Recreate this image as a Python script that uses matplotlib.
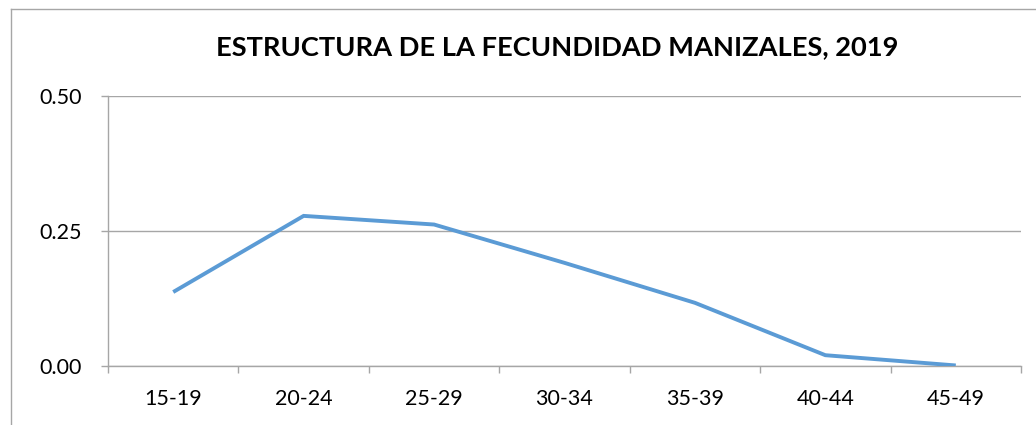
import matplotlib
matplotlib.use("Agg")
import matplotlib.pyplot as plt
import numpy as np
from matplotlib.lines import Line2D

# Data
grupos = ["15-19", "20-24", "25-29", "30-34", "35-39", "40-44", "45-49"]
tasas = [0.137, 0.278, 0.262, 0.191, 0.117, 0.020, 0.001]
y_ticks = [0.0, 0.25, 0.5]
titulo = "ESTRUCTURA DE LA FECUNDIDAD MANIZALES, 2019"

gris = "#a6a6a6"
azul = "#5b9bd5"

plt.rcParams["font.family"] = ["Lato", "DejaVu Sans"]

fig = plt.figure(figsize=(10.36, 4.25), dpi=100)
ax = fig.add_axes([108 / 1036, 1 - 366 / 425, (1021 - 108) / 1036, (366 - 96) / 425])

x = np.arange(len(grupos))
ax.plot(x, tasas, color=azul, linewidth=2.8, solid_capstyle="butt", solid_joinstyle="miter", zorder=3)

ax.set_xlim(-0.5, len(grupos) - 0.5)
ax.set_ylim(0, 0.5)
ax.set_yticks(y_ticks)
ax.set_yticklabels([f"{v:.2f}" for v in y_ticks])
ax.set_xticks(x)
ax.set_xticklabels(grupos)
ax.set_xticks(np.arange(-0.5, len(grupos)), minor=True)

ax.tick_params(axis="x", which="major", length=0, pad=16.5, labelsize=15.5, colors="black")
ax.tick_params(axis="x", which="minor", length=5, width=1, color=gris, direction="out")
ax.tick_params(axis="y", which="major", length=5, width=1, color=gris, pad=14, labelsize=15.5)

ax.grid(axis="y", color=gris, linewidth=1)
ax.set_axisbelow(True)
for side in ["top", "right"]:
    ax.spines[side].set_visible(False)
for side in ["left", "bottom"]:
    ax.spines[side].set_color(gris)
    ax.spines[side].set_linewidth(1)

fig.text(557 / 1036, 1 - 47 / 425, titulo, ha="center", va="center",
         fontsize=19.6, fontweight="bold")

# outer chart frame (partly cropped in the reference)
fig.add_artist(Line2D([11 / 1036, 11 / 1036], [0, 1 - 9 / 425], color=gris, linewidth=1))
fig.add_artist(Line2D([11 / 1036, 1], [1 - 9 / 425, 1 - 9 / 425], color=gris, linewidth=1))

fig.savefig("out.png", dpi=100)
